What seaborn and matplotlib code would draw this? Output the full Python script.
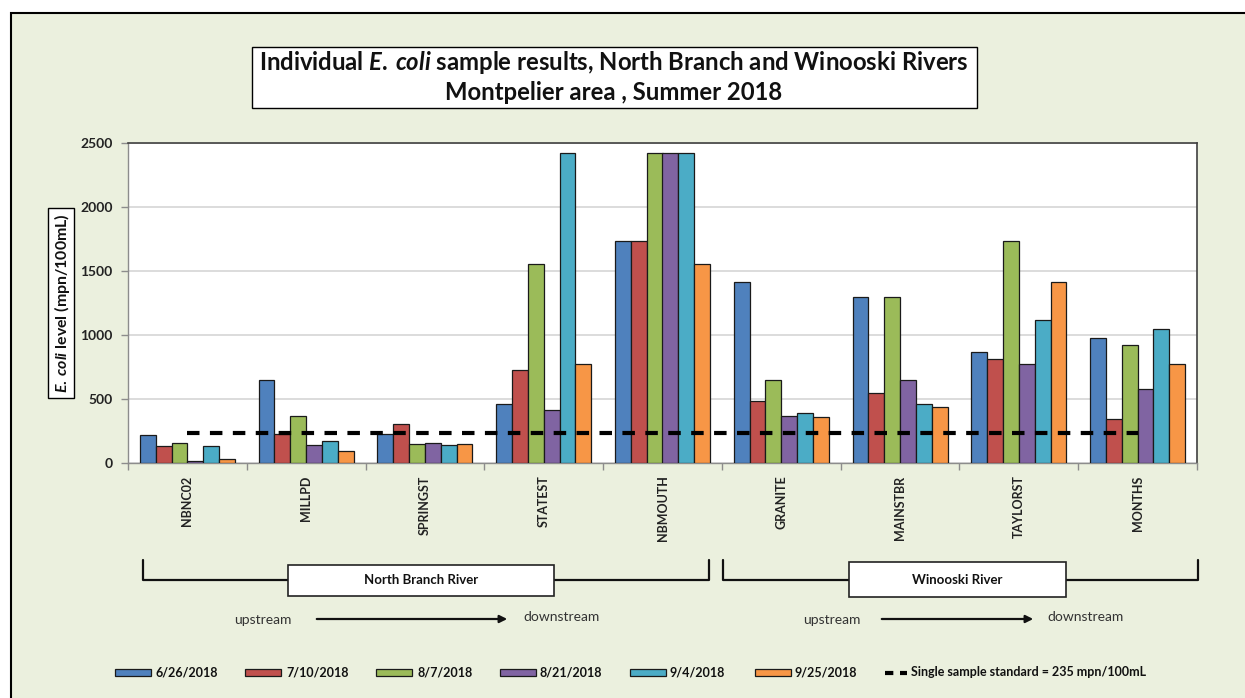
import numpy as np
import pandas as pd
import matplotlib
matplotlib.use("Agg")
import matplotlib.pyplot as plt
import seaborn as sns
from matplotlib.patches import Rectangle, FancyArrowPatch
from matplotlib.lines import Line2D

# ---------------- data ----------------
sites = ["NBNC02", "MILLPD", "SPRINGST", "STATEST", "NBMOUTH",
         "GRANITE", "MAINSTBR", "TAYLORST", "MONTHS"]
dates = ["6/26/2018", "7/10/2018", "8/7/2018", "8/21/2018", "9/4/2018", "9/25/2018"]
v_0626 = [217, 645, 230, 462, 1733, 1414, 1300, 866, 980]
v_0710 = [130, 230, 303, 727, 1733, 488, 548, 816, 345]
v_0807 = [157, 365, 151, 1553, 2420, 648, 1300, 1733, 921]
v_0821 = [18, 141, 157, 411, 2420, 365, 649, 770, 579]
v_0904 = [130, 172, 141, 2420, 2420, 387, 461, 1120, 1046]
v_0925 = [29, 91, 146, 770, 1553, 360, 435, 1414, 770]
standard = 235
colors = ["#4F81BD", "#C0504D", "#9BBB59", "#8064A2", "#4BACC6", "#F79646"]
yticks = [0, 500, 1000, 1500, 2000, 2500]

series = [v_0626, v_0710, v_0807, v_0821, v_0904, v_0925]
df = pd.DataFrame({
    "site": sites * len(dates),
    "date": np.repeat(dates, len(sites)),
    "value": sum(series, []),
})

# ---------------- style ----------------
sns.set_style("white")
FONT = ["Lato", "DejaVu Sans"]
plt.rcParams["font.family"] = FONT
plt.rcParams["mathtext.fontset"] = "custom"
plt.rcParams["mathtext.rm"] = "Lato:bold"
plt.rcParams["mathtext.it"] = "Lato:italic:bold"
plt.rcParams["mathtext.bf"] = "Lato:bold"

W, H = 1245, 698
BG = "#EBF0DE"
fig = plt.figure(figsize=(W / 100, H / 100), dpi=100)
fig.patch.set_facecolor("white")


def fx(x):
    return x / W


def fy(y):
    return 1 - y / H


# outer frame / background
fig.add_artist(Rectangle((fx(11), -0.05), 1.2, fy(13) + 0.05, transform=fig.transFigure,
                         fc=BG, ec="black", lw=1.5, zorder=-10))

# ---------------- axes ----------------
ax = fig.add_axes([fx(128), fy(463), (1197 - 128) / W, (463 - 143) / H])
ax.set_facecolor("white")
sns.barplot(data=df, x="site", y="value", hue="date", order=sites, hue_order=dates,
            palette=colors, saturation=1, width=0.8, edgecolor="#1a1a1a",
            linewidth=0.9, legend=False, ax=ax, zorder=3)
ax.plot([0, len(sites) - 1], [standard, standard], color="black", lw=3,
        linestyle=(0, (3.0, 2.5)), dash_capstyle="butt", zorder=5)

ax.set_xlim(-0.5, len(sites) - 0.5)
ax.set_ylim(0, 2500)
ax.set_axisbelow(True)
ax.yaxis.grid(True, color="#D9D9D9", lw=1.3)
ax.set_xlabel("")
ax.set_ylabel("")
ax.set_yticks(yticks)
ax.set_yticklabels([str(v) for v in yticks], fontsize=10, fontweight="bold", color="#222222")
ax.tick_params(axis="y", length=5, color="#8c8c8c", width=1, pad=6, direction="out", left=True)
ax.set_xticks(range(len(sites)))
ax.set_xticklabels(sites, rotation=90, fontsize=9, fontweight="bold", color="#222222",
                   va="top")
ax.tick_params(axis="x", which="major", length=0, pad=9)
ax.set_xticks(np.arange(-0.5, len(sites), 1), minor=True)
ax.tick_params(axis="x", which="minor", length=5, color="#8c8c8c", width=1, direction="out",
               bottom=True)
for s in ["left", "bottom"]:
    ax.spines[s].set_color("#8c8c8c")
    ax.spines[s].set_linewidth(1)
for s in ["top", "right"]:
    ax.spines[s].set_color("#404040")
    ax.spines[s].set_linewidth(1.2)
    ax.spines[s].set_visible(True)

renderer = fig.canvas.get_renderer()


def fit_width(t, target, vertical=False):
    bb = t.get_window_extent(renderer)
    cur = bb.height if vertical else bb.width
    t.set_fontsize(t.get_fontsize() * target / cur)


# ---------------- title ----------------
fig.add_artist(Rectangle((fx(252), fy(108)), 725 / W, 61 / H, transform=fig.transFigure,
                         fc="white", ec="black", lw=1, zorder=1))
t1 = fig.text(fx(614), fy(63),
              r"Individual $\mathit{E.\:coli}$ sample results, North Branch and Winooski Rivers",
              ha="center", va="center", fontsize=14, fontweight="bold", color="#111111", zorder=2)
fit_width(t1, 712)
t2 = fig.text(fx(614), fy(93), "Montpelier area , Summer 2018", ha="center", va="center",
              fontsize=t1.get_fontsize(), fontweight="bold", color="#111111", zorder=2)

# ---------------- y label ----------------
fig.add_artist(Rectangle((fx(48), fy(398)), 26 / W, 190 / H, transform=fig.transFigure,
                         fc="white", ec="black", lw=1, zorder=1))
yl = fig.text(fx(61.5), fy(303), r"$\mathit{E.\:coli}$ level (mpn/100mL)", rotation=90,
              ha="center", va="center", fontsize=10, fontweight="bold", color="#111111", zorder=2)
fit_width(yl, 180, vertical=True)

# ---------------- river brackets ----------------
def bracket(x0, x1, box0, box1, by0, by1, label):
    fig.add_artist(Line2D([fx(x0), fx(x0), fx(x1), fx(x1)], [fy(560), fy(580), fy(580), fy(560)],
                          transform=fig.transFigure, color="#111111", lw=1.6, zorder=1))
    fig.add_artist(Rectangle((fx(box0), fy(by1)), (box1 - box0) / W, (by1 - by0) / H,
                             transform=fig.transFigure, fc="white", ec="#222222", lw=1.2, zorder=2))
    fig.text(fx((box0 + box1) / 2), fy((by0 + by1) / 2), label, ha="center", va="center",
             fontsize=9.5, fontweight="bold", color="#111111", zorder=3)


bracket(143, 709, 288, 554, 565, 596, "North Branch River")
bracket(723, 1198, 849, 1066, 562, 597, "Winooski River")


def flow(xu, xa0, xa1, xd):
    fig.text(fx(xu), fy(620), "upstream", ha="center", va="center", fontsize=10, color="#333333")
    fig.text(fx(xd), fy(617), "downstream", ha="center", va="center", fontsize=10, color="#333333")
    fig.add_artist(FancyArrowPatch((fx(xa0), fy(619)), (fx(xa1), fy(619)),
                                   transform=fig.transFigure, arrowstyle="-|>",
                                   mutation_scale=11, lw=1.6, color="#111111"))


flow(263, 314, 510, 562)
flow(832, 879, 1036, 1085)

# ---------------- legend ----------------
patch_x = [115, 245, 376, 500, 630, 755]
text_x = [155, 286, 417, 539, 670, 795]
for c, lab, px, tx in zip(colors, dates, patch_x, text_x):
    fig.add_artist(Rectangle((fx(px), fy(676)), 36 / W, 7 / H, transform=fig.transFigure,
                             fc=c, ec="#1a1a1a", lw=0.9))
    fig.text(fx(tx), fy(672.5), lab, ha="left", va="center", fontsize=9, fontweight="bold",
             color="#111111")
fig.add_artist(Line2D([fx(885), fx(907)], [fy(672.5), fy(672.5)], transform=fig.transFigure,
                      color="black", lw=3, linestyle=(0, (2.0, 1.6)), dash_capstyle="butt"))
fig.text(fx(911), fy(672.5), "Single sample standard = 235 mpn/100mL", ha="left", va="center",
         fontsize=9, fontweight="bold", color="#111111")

fig.savefig("out.png", dpi=100, facecolor=fig.get_facecolor())
